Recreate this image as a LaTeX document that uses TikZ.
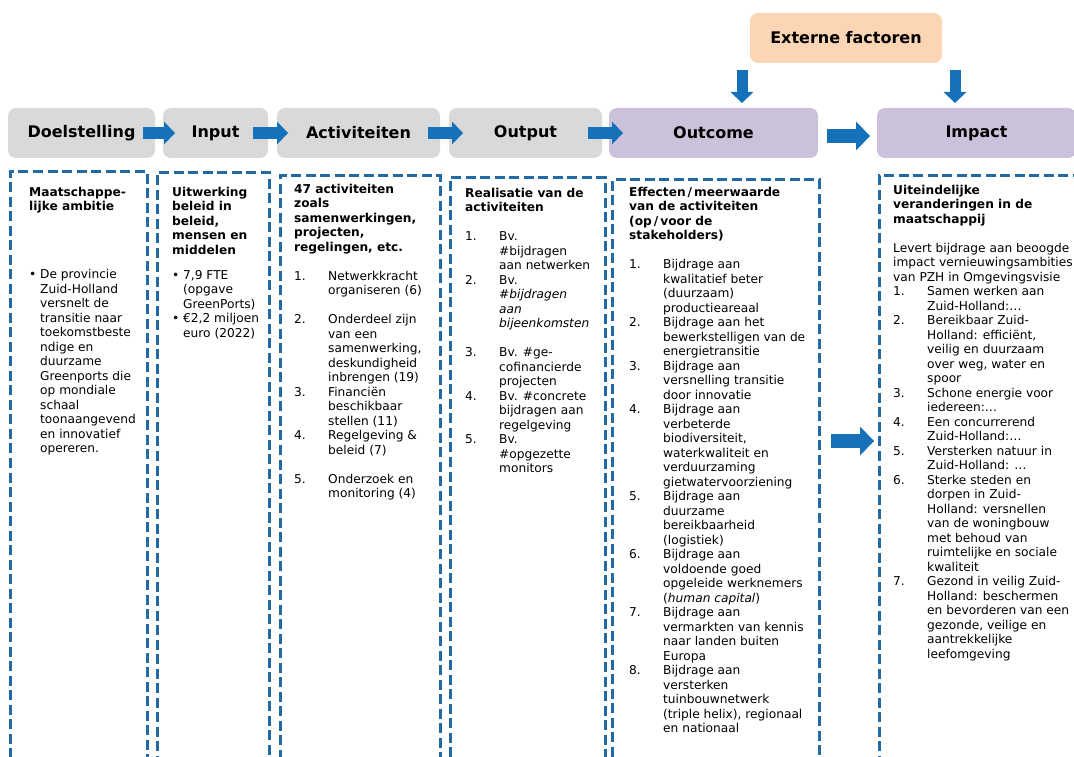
\documentclass[tikz,border=0pt]{standalone}
\usepackage{fontspec}
\setmainfont{DejaVu Sans}
\usetikzlibrary{positioning,arrows.meta}
\definecolor{boxgray}{RGB}{217,217,217}
\definecolor{boxlila}{RGB}{204,193,218}
\definecolor{boxoranje}{RGB}{252,213,180}
\definecolor{pijlblauw}{RGB}{21,114,186}
\definecolor{streepblauw}{RGB}{34,106,166}
\newcommand{\nrbox}[1]{\makebox[34pt][l]{#1}}
\newcommand{\nrind}{\hspace*{34pt}}
\newcommand{\blt}{\makebox[11pt][l]{\textbullet}}
\newcommand{\bind}{\hspace*{11pt}}

\begin{document}
\begin{tikzpicture}[x=1pt,y=1pt,
  fase/.style={rounded corners=8pt,minimum height=50pt,inner sep=0pt,outer sep=0pt,font=\fontsize{16}{19}\selectfont\bfseries},
  kolom/.style={draw=streepblauw,line width=3pt,dash pattern=on 10pt off 4.5pt,inner sep=0pt,outer sep=0pt,minimum height=600pt,anchor=north west},
  tekst/.style={anchor=north west,inner sep=0pt,align=left,font=\fontsize{12.2}{14.5}\selectfont},
  blok/.style={draw=pijlblauw,line width=12pt,-{Triangle[length=11pt,width=23pt,line width=0pt]}},
  grootblok/.style={draw=pijlblauw,line width=13.5pt,-{Triangle[length=14pt,width=29pt,line width=0pt]}}]
\useasboundingbox (0,0) rectangle (1074,756);
\clip (0,0) rectangle (1074,756);
\node[fase,fill=boxgray,minimum width=147pt](doel) at (81.5,623) {Doelstelling};
\node[fase,fill=boxgray,minimum width=105pt](input)[right=8pt of doel] {Input};
\node[fase,fill=boxgray,minimum width=163pt](activ)[right=9pt of input] {Activiteiten};
\node[fase,fill=boxgray,minimum width=153pt](output)[right=9pt of activ] {Output};
\node[fase,fill=boxlila,minimum width=209pt](outcome)[right=7pt of output] {Outcome};
\node[fase,fill=boxlila,minimum width=199pt](impact)[right=59pt of outcome] {Impact};
\node[fase,fill=boxoranje,minimum width=192pt](extern) at (846,718) {Externe factoren};
\draw[blok] ([xshift=-12pt]doel.east) -- ([xshift=12pt]input.west);
\draw[blok] ([xshift=-15pt]input.east) -- ([xshift=11pt]activ.west);
\draw[blok] ([xshift=-12pt]activ.east) -- ([xshift=14pt]output.west);
\draw[blok] ([xshift=-14pt]output.east) -- ([xshift=14pt]outcome.west);
\draw[grootblok] ([xshift=9pt,yshift=-3pt]outcome.east) -- ([xshift=-7pt,yshift=-3pt]impact.west);
\draw[blok,line width=11pt] ([xshift=-8pt,yshift=-7pt]extern.south west) -- ([xshift=28.5pt,yshift=5pt]outcome.north);
\draw[blok,line width=11pt] ([xshift=13pt,yshift=-7pt]extern.south east) -- ([xshift=-21.5pt,yshift=5pt]impact.north);
\node[kolom,minimum width=137pt](doelkolom) at (10,584) {};
\node[kolom,minimum width=112pt](inputkolom) at (157,583) {};
\node[kolom,minimum width=160pt](activkolom) at (280,580) {};
\node[kolom,minimum width=155pt](outputkolom) at (450,578) {};
\node[kolom,minimum width=207pt](outcomekolom) at (612,576) {};
\node[kolom,minimum width=215pt](impactkolom) at (879,580) {};
\draw[grootblok] ([xshift=12pt,yshift=39pt]outcomekolom.east) -- ([xshift=-5pt,yshift=35pt]impactkolom.west);
\node[tekst](doeltekst) at ([xshift=19pt,yshift=-15pt]doelkolom.north west) {\textbf{Maatschappe-}\\ \textbf{lijke ambitie}\\[53.5pt]
\blt De provincie\\ \bind Zuid-Holland\\ \bind versnelt de\\ \bind transitie naar\\ \bind toekomstbeste\\ \bind ndige en\\ \bind duurzame\\ \bind Greenports die\\ \bind op mondiale\\ \bind schaal\\ \bind toonaangevend\\ \bind en innovatief\\ \bind opereren.};
\node[tekst](inputtekst) at ([xshift=15pt,yshift=-14pt]inputkolom.north west) {\textbf{Uitwerking}\\ \textbf{beleid in}\\ \textbf{beleid,}\\ \textbf{mensen en}\\ \textbf{middelen}\\[10.5pt]
\blt 7,9 FTE\\ \bind (opgave\\ \bind GreenPorts)\\ \blt €2,2 miljoen\\ \bind euro (2022)};
\node[tekst](activtekst) at ([xshift=14pt,yshift=-8pt]activkolom.north west) {\textbf{47 activiteiten}\\ \textbf{zoals}\\ \textbf{samenwerkingen,}\\ \textbf{projecten,}\\ \textbf{regelingen, etc.}\\[14.5pt]
\nrbox{1.}Netwerkkracht\\ \nrind organiseren (6)\\[14.5pt]
\nrbox{2.}Onderdeel zijn\\ \nrind van een\\ \nrind samenwerking,\\ \nrind deskundigheid\\ \nrind inbrengen (19)\\
\nrbox{3.}Financiën\\ \nrind beschikbaar\\ \nrind stellen (11)\\
\nrbox{4.}Regelgeving \&\\ \nrind beleid (7)\\[14.5pt]
\nrbox{5.}Onderzoek en\\ \nrind monitoring (4)};
\node[tekst](outputtekst) at ([xshift=15pt,yshift=-10pt]outputkolom.north west) {\textbf{Realisatie van de}\\ \textbf{activiteiten}\\[14.5pt]
\nrbox{1.}Bv.\\ \nrind\#bijdragen\\ \nrind aan netwerken\\
\nrbox{2.}Bv.\\ \nrind\textit{\#bijdragen}\\ \nrind\textit{aan}\\ \nrind\textit{bijeenkomsten}\\[14.5pt]
\nrbox{3.}Bv. \#ge-\\ \nrind cofinancierde\\ \nrind projecten\\
\nrbox{4.}Bv. \#concrete\\ \nrind bijdragen aan\\ \nrind regelgeving\\
\nrbox{5.}Bv.\\ \nrind\#opgezette\\ \nrind monitors};
\node[tekst](outcometekst) at ([xshift=17pt,yshift=-7pt]outcomekolom.north west) {\textbf{Effecten\,/\,meerwaarde}\\ \textbf{van de activiteiten}\\ \textbf{(op\,/\,voor de}\\ \textbf{stakeholders)}\\[14.5pt]
\nrbox{1.}Bijdrage aan\\ \nrind kwalitatief beter\\ \nrind (duurzaam)\\ \nrind productieareaal\\
\nrbox{2.}Bijdrage aan het\\ \nrind bewerkstelligen van de\\ \nrind energietransitie\\
\nrbox{3.}Bijdrage aan\\ \nrind versnelling transitie\\ \nrind door innovatie\\
\nrbox{4.}Bijdrage aan\\ \nrind verbeterde\\ \nrind biodiversiteit,\\ \nrind waterkwaliteit en\\ \nrind verduurzaming\\ \nrind gietwatervoorziening\\
\nrbox{5.}Bijdrage aan\\ \nrind duurzame\\ \nrind bereikbaarheid\\ \nrind (logistiek)\\
\nrbox{6.}Bijdrage aan\\ \nrind voldoende goed\\ \nrind opgeleide werknemers\\ \nrind (\textit{human capital})\\
\nrbox{7.}Bijdrage aan\\ \nrind vermarkten van kennis\\ \nrind naar landen buiten\\ \nrind Europa\\
\nrbox{8.}Bijdrage aan\\ \nrind versterken\\ \nrind tuinbouwnetwerk\\ \nrind (triple helix), regionaal\\ \nrind en nationaal};
\node[tekst](impacttekst) at ([xshift=14pt,yshift=-9pt]impactkolom.north west) {\textbf{Uiteindelijke}\\ \textbf{veranderingen in de}\\ \textbf{maatschappij}\\[14.5pt]
Levert bijdrage aan beoogde\\ impact vernieuwingsambities\\ van PZH in Omgevingsvisie\\
\nrbox{1.}Samen werken aan\\ \nrind Zuid-Holland:…\\
\nrbox{2.}Bereikbaar Zuid-\\ \nrind Holland: efficiënt,\\ \nrind veilig en duurzaam\\ \nrind over weg, water en\\ \nrind spoor\\
\nrbox{3.}Schone energie voor\\ \nrind iedereen:…\\
\nrbox{4.}Een concurrerend\\ \nrind Zuid-Holland:…\\
\nrbox{5.}Versterken natuur in\\ \nrind Zuid-Holland: …\\
\nrbox{6.}Sterke steden en\\ \nrind dorpen in Zuid-\\ \nrind Holland: versnellen\\ \nrind van de woningbouw\\ \nrind met behoud van\\ \nrind ruimtelijke en sociale\\ \nrind kwaliteit\\
\nrbox{7.}Gezond in veilig Zuid-\\ \nrind Holland: beschermen\\ \nrind en bevorderen van een\\ \nrind gezonde, veilige en\\ \nrind aantrekkelijke\\ \nrind leefomgeving};
\end{tikzpicture}
\end{document}
